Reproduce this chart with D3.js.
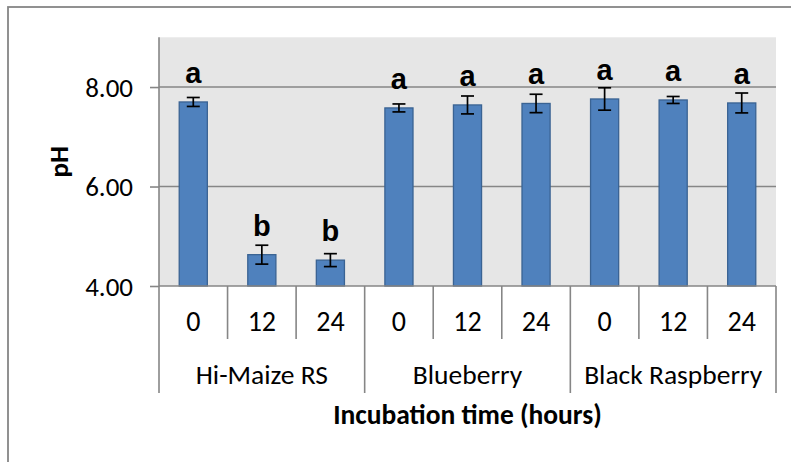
<!DOCTYPE html>
<html>
<head>
<meta charset="utf-8">
<script src="https://cdn.jsdelivr.net/npm/d3@7"></script>
<style>
  html, body { margin: 0; padding: 0; background: #ffffff; }
  svg { display: block; }
  .lbl { font-family: Carlito, Calibri, Lato, "Open Sans", sans-serif; fill: #000; }
  .sig { font-family: "Liberation Sans", Arial, sans-serif; font-weight: bold; fill: #000; }
</style>
</head>
<body>
<svg id="chart" width="791" height="462"></svg>
<script>
// pH of fermentation samples by substrate and incubation time
const groups = ["Hi-Maize RS", "Blueberry", "Black Raspberry"];
const times = ["0", "12", "24"];
const meanPH = [7.70, 4.63, 4.52, 7.58, 7.64, 7.67, 7.76, 7.74, 7.68];
const errPH = [0.09, 0.19, 0.13, 0.08, 0.18, 0.185, 0.225, 0.07, 0.20];
const sigLetters = ["a", "b", "b", "a", "a", "a", "a", "a", "a"];
const yTicks = [4, 6, 8];
const yDomain = [4, 9];

const rows = [];
groups.forEach((g, gi) => times.forEach((t, ti) => {
  const i = gi * times.length + ti;
  rows.push({ key: g + "|" + t, group: g, time: t, mean: meanPH[i], err: errPH[i], sig: sigLetters[i] });
}));

const svg = d3.select("#chart");
const plot = { left: 159, right: 776, top: 37.3, bottom: 286 };
const gridColor = "#868686";

// outer chart-area border
svg.append("rect")
  .attr("x", 8).attr("y", 7).attr("width", 800).attr("height", 480)
  .attr("fill", "#fff").attr("stroke", gridColor).attr("stroke-width", 1.8);

const x = d3.scaleBand()
  .domain(rows.map(d => d.key))
  .range([plot.left, plot.right])
  .paddingInner(0.59)
  .paddingOuter(0.295);

const xCat = d3.scaleBand()
  .domain(rows.map(d => d.key))
  .range([plot.left, plot.right]);

const xGroup = d3.scaleBand()
  .domain(groups)
  .range([plot.left, plot.right]);

const y = d3.scaleLinear().domain(yDomain).range([plot.bottom, plot.top]);

// plot background
svg.append("rect")
  .attr("x", plot.left).attr("y", plot.top)
  .attr("width", plot.right - plot.left).attr("height", plot.bottom - plot.top)
  .attr("fill", "#e6e6e6");

// horizontal gridlines
svg.append("g").selectAll("line").data(yTicks.filter(v => v !== yDomain[0])).join("line")
  .attr("x1", plot.left).attr("x2", plot.right)
  .attr("y1", d => y(d)).attr("y2", d => y(d))
  .attr("stroke", gridColor).attr("stroke-width", 1.6);

// y axis
const yAxis = svg.append("g")
  .attr("transform", `translate(${plot.left},0)`)
  .call(d3.axisLeft(y).tickValues(yTicks).tickFormat(d3.format(".2f")).tickSize(9).tickPadding(17));
yAxis.select(".domain").remove();
yAxis.selectAll(".tick line").attr("stroke", gridColor).attr("stroke-width", 1.6);
yAxis.selectAll(".tick text")
  .attr("class", "lbl").attr("font-size", 27).attr("dy", "0.35em");
svg.append("line")
  .attr("x1", plot.left).attr("x2", plot.left)
  .attr("y1", plot.top).attr("y2", plot.bottom)
  .attr("stroke", gridColor).attr("stroke-width", 1.6);

// bars
svg.append("g").selectAll("rect").data(rows).join("rect")
  .attr("x", d => x(d.key)).attr("width", x.bandwidth())
  .attr("y", d => y(d.mean)).attr("height", d => y(yDomain[0]) - y(d.mean))
  .attr("fill", "#4f81bd").attr("stroke", "#3a6393").attr("stroke-width", 1.3);

// error bars
const eb = svg.append("g").attr("stroke", "#000").attr("stroke-width", 1.7);
const cap = 6.5;
rows.forEach(d => {
  const cx = x(d.key) + x.bandwidth() / 2;
  eb.append("line").attr("x1", cx).attr("x2", cx).attr("y1", y(d.mean + d.err)).attr("y2", y(d.mean - d.err));
  eb.append("line").attr("x1", cx - cap).attr("x2", cx + cap).attr("y1", y(d.mean + d.err)).attr("y2", y(d.mean + d.err));
  eb.append("line").attr("x1", cx - cap).attr("x2", cx + cap).attr("y1", y(d.mean - d.err)).attr("y2", y(d.mean - d.err));
});

// significance letters
svg.append("g").selectAll("text").data(rows).join("text")
  .attr("class", "sig").attr("font-size", 29)
  .attr("text-anchor", "middle")
  .attr("x", d => x(d.key) + x.bandwidth() / 2)
  .attr("y", d => y(d.mean) - 19)
  .text(d => d.sig);

// x axis line and category dividers
svg.append("line")
  .attr("x1", plot.left).attr("x2", plot.right)
  .attr("y1", plot.bottom).attr("y2", plot.bottom)
  .attr("stroke", gridColor).attr("stroke-width", 1.6);

const innerDividers = rows.map(d => xCat(d.key)).filter((v, i) => i % times.length !== 0);
svg.append("g").selectAll("line").data(innerDividers).join("line")
  .attr("x1", d => d).attr("x2", d => d)
  .attr("y1", plot.bottom).attr("y2", 339)
  .attr("stroke", gridColor).attr("stroke-width", 1.6);

const groupDividers = groups.map(g => xGroup(g)).concat([plot.right]);
svg.append("g").selectAll("line").data(groupDividers).join("line")
  .attr("x1", d => d).attr("x2", d => d)
  .attr("y1", plot.bottom).attr("y2", 393)
  .attr("stroke", gridColor).attr("stroke-width", 1.6);

// time labels
svg.append("g").selectAll("text").data(rows).join("text")
  .attr("class", "lbl").attr("font-size", 28).attr("text-anchor", "middle")
  .attr("x", d => xCat(d.key) + xCat.bandwidth() / 2)
  .attr("y", 331)
  .text(d => d.time);

// group labels
svg.append("g").selectAll("text").data(groups).join("text")
  .attr("class", "lbl").attr("font-size", 27.5).attr("text-anchor", "middle")
  .attr("x", d => xGroup(d) + xGroup.bandwidth() / 2)
  .attr("y", 384)
  .text(d => d);

// axis titles
svg.append("text")
  .attr("class", "lbl").attr("font-size", 27.5).attr("font-weight", "bold")
  .attr("text-anchor", "middle")
  .attr("x", (plot.left + plot.right) / 2).attr("y", 424)
  .text("Incubation time (hours)");

svg.append("text")
  .attr("class", "lbl").attr("font-size", 27).attr("font-weight", "bold")
  .attr("text-anchor", "middle")
  .attr("transform", `translate(68,${(plot.top + plot.bottom) / 2}) rotate(-90)`)
  .text("pH");
</script>
</body>
</html>
